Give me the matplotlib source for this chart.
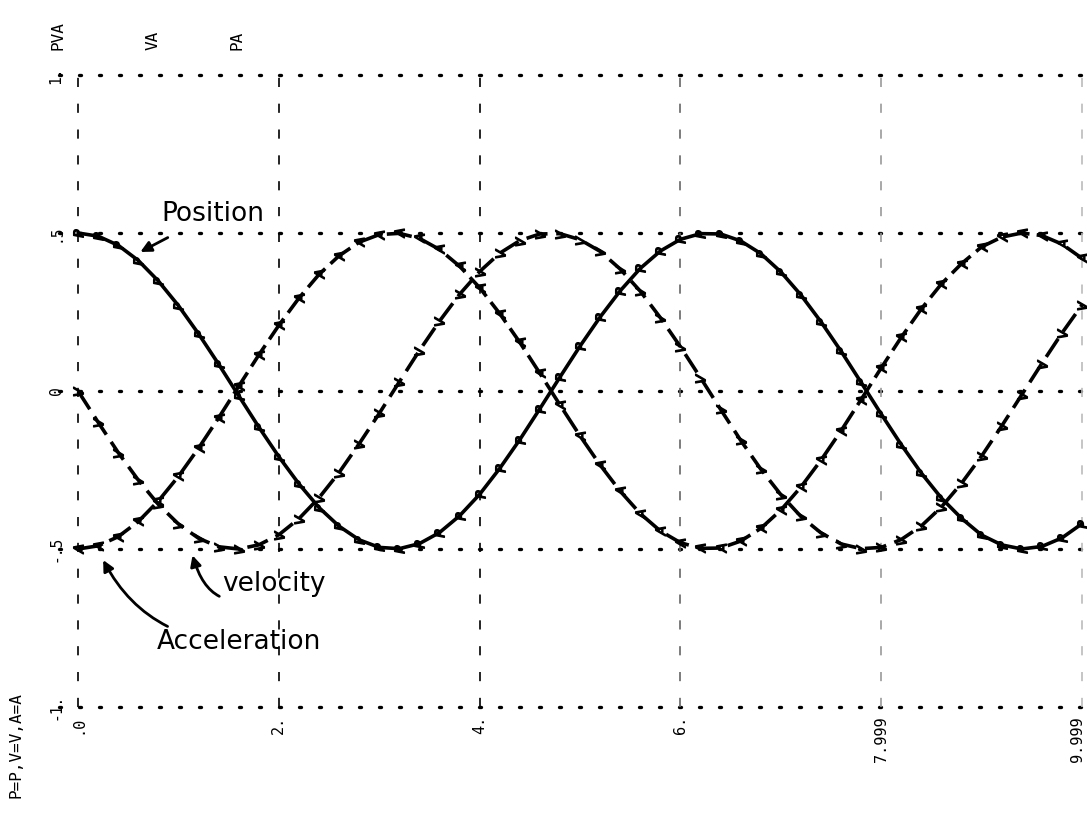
import matplotlib
matplotlib.use("Agg")
import matplotlib.pyplot as plt
from matplotlib.markers import MarkerStyle
from matplotlib.transforms import Affine2D

# time samples
t = [0.0, 0.2, 0.4, 0.6, 0.8, 1.0, 1.2, 1.4, 1.6, 1.8,
     2.0, 2.2, 2.4, 2.6, 2.8, 3.0, 3.2, 3.4, 3.6, 3.8,
     4.0, 4.2, 4.4, 4.6, 4.8, 5.0, 5.2, 5.4, 5.6, 5.8,
     6.0, 6.2, 6.4, 6.6, 6.8, 7.0, 7.2, 7.4, 7.6, 7.8,
     8.0, 8.2, 8.4, 8.6, 8.8, 9.0, 9.2, 9.4, 9.6, 9.8, 10.0]

position = [.500, .490, .461, .413, .348, .270, .181, .085, -.015, -.114,
            -.208, -.294, -.369, -.428, -.471, -.495, -.499, -.483, -.448, -.395,
            -.327, -.245, -.154, -.056, .044, .142, .234, .317, .388, .443,
            .480, .498, .497, .475, .435, .377, .304, .219, .126, .027,
            -.073, -.170, -.260, -.339, -.403, -.456, -.487, -.500, -.492, -.465, -.420]

velocity = [.000, -.099, -.195, -.282, -.359, -.421, -.466, -.493, -.500, -.487,
            -.455, -.404, -.338, -.258, -.167, -.071, .029, .128, .221, .306,
            .378, .436, .476, .497, .498, .479, .442, .386, .316, .232,
            .140, .042, -.058, -.156, -.247, -.328, -.397, -.449, -.484, -.499,
            -.495, -.470, -.427, -.367, -.292, -.206, -.111, -.012, .087, .183, .272]

acceleration = [-.500, -.490, -.461, -.413, -.348, -.270, -.181, -.085, .015, .114,
                .208, .294, .369, .428, .471, .495, .499, .483, .448, .395,
                .327, .245, .154, .056, -.044, -.142, -.234, -.317, -.388, -.443,
                -.480, -.498, -.497, -.475, -.435, -.377, -.304, -.219, -.126, -.027,
                .073, .170, .260, .339, .403, .456, .487, .500, .492, .465, .420]

y_ticks = [1.0, 0.5, 0.0, -0.5, -1.0]
y_tick_labels = ["1.", ".5", "0", "-.5", "-1."]
x_ticks = [0, 2, 4, 6, 8, 10]
x_tick_labels = [".0", "2.", "4.", "6.", "7.999", "9.999"]

W, H = 1087, 817
fig = plt.figure(figsize=(W / 100, H / 100), dpi=100)
fig.patch.set_facecolor("white")

# axes placement in pixels
x0_px, x1_px = 59, 1087
xlim = (-0.19, 10.05)
ylim = (-1.02, 1.02)
top_px, bot_px = 68.7, 713.3
ax = fig.add_axes([x0_px / W, 1 - bot_px / H, (x1_px - x0_px) / W, (bot_px - top_px) / H])
ax.set_xlim(*xlim)
ax.set_ylim(*ylim)
ax.axis("off")

# grid: dotted horizontals, dashed verticals
for yv in y_ticks:
    ax.axhline(yv, color="black", lw=2.4, ls=(0, (0.6, 5.4)), dash_capstyle="round",
               zorder=1, clip_on=False)
vcolors = {0: "black", 2: "black", 4: "black", 6: "#666666", 8: "#9a9a9a", 10: "#bbbbbb"}
for xv in x_ticks:
    ax.plot([xv, xv], [-1.0, 1.02], color=vcolors[xv], lw=1.2, ls=(0, (5.5, 10)),
            zorder=1, clip_on=False)

# curves
def rot_marker(ch):
    return MarkerStyle(f"${ch}$", transform=Affine2D().rotate_deg(90))

ax.plot(t, position, color="black", lw=2.6, zorder=3, solid_capstyle="round")
ax.plot(t, velocity, color="black", lw=2.6, ls=(0, (6, 2.4)), zorder=3)
ax.plot(t, acceleration, color="black", lw=2.6, ls=(0, (7, 2.0)), zorder=3)
ax.plot(t, position, ls="none", marker=rot_marker("P"), ms=7, color="black", zorder=4)
ax.plot(t, velocity, ls="none", marker=rot_marker("V"), ms=7, color="black", zorder=4)
ax.plot(t, acceleration, ls="none", marker=rot_marker("A"), ms=7, color="black", zorder=4)

# tick labels (rotated, printer style)
mono = "DejaVu Sans Mono"
def px_to_data_x(px):
    return xlim[0] + (px - x0_px) / (x1_px - x0_px) * (xlim[1] - xlim[0])
def px_to_data_y(py):
    return ylim[1] - (py - top_px) / (bot_px - top_px) * (ylim[1] - ylim[0])

for yv, lab in zip(y_ticks, y_tick_labels):
    ax.text(px_to_data_x(56), yv, lab, rotation=90, ha="center", va="center",
            fontsize=10.5, family=mono, clip_on=False)
for xv, lab in zip(x_ticks, x_tick_labels):
    if xv == 10:
        ax.text(px_to_data_x(1085), px_to_data_y(716), lab, rotation=90, ha="right",
                va="top", fontsize=11, family=mono, clip_on=False)
    else:
        ax.text(xv, px_to_data_y(716), lab, rotation=90, ha="center", va="top",
                fontsize=11, family=mono, clip_on=False)

# top labels
for px, lab in [(58, "PVA"), (153, "VA"), (237, "PA")]:
    fig.text(px / W, 1 - 50 / H, lab, rotation=90, ha="center", va="bottom",
             fontsize=11.5, family=mono)
fig.text(16 / W, 1 - 745 / H, "P=P,V=V,A=A", rotation=90, ha="center", va="center",
         fontsize=11.5, family=mono)

# hand-written style annotations
hand = dict(fontsize=19, family="DejaVu Sans", color="black")
ax.annotate("Position", xy=(0.62, 0.44), xytext=(1.34, 0.56),
            ha="center", va="center", **hand,
            arrowprops=dict(arrowstyle="-|>", lw=2, color="black", shrinkA=12, shrinkB=0,
                            mutation_scale=16))
ax.annotate("velocity", xy=(1.14, -0.52), xytext=(1.95, -0.61),
            ha="center", va="center", **hand,
            arrowprops=dict(arrowstyle="-|>", lw=2, color="black", shrinkA=42, shrinkB=0,
                            mutation_scale=16, connectionstyle="arc3,rad=-0.7"))
ax.annotate("Acceleration", xy=(0.25, -0.535), xytext=(1.6, -0.795),
            ha="center", va="center", **hand,
            arrowprops=dict(arrowstyle="-|>", lw=2, color="black", shrinkA=70, shrinkB=0,
                            mutation_scale=16, connectionstyle="arc3,rad=-0.3"))

fig.savefig("out.png", dpi=100, facecolor="white")
